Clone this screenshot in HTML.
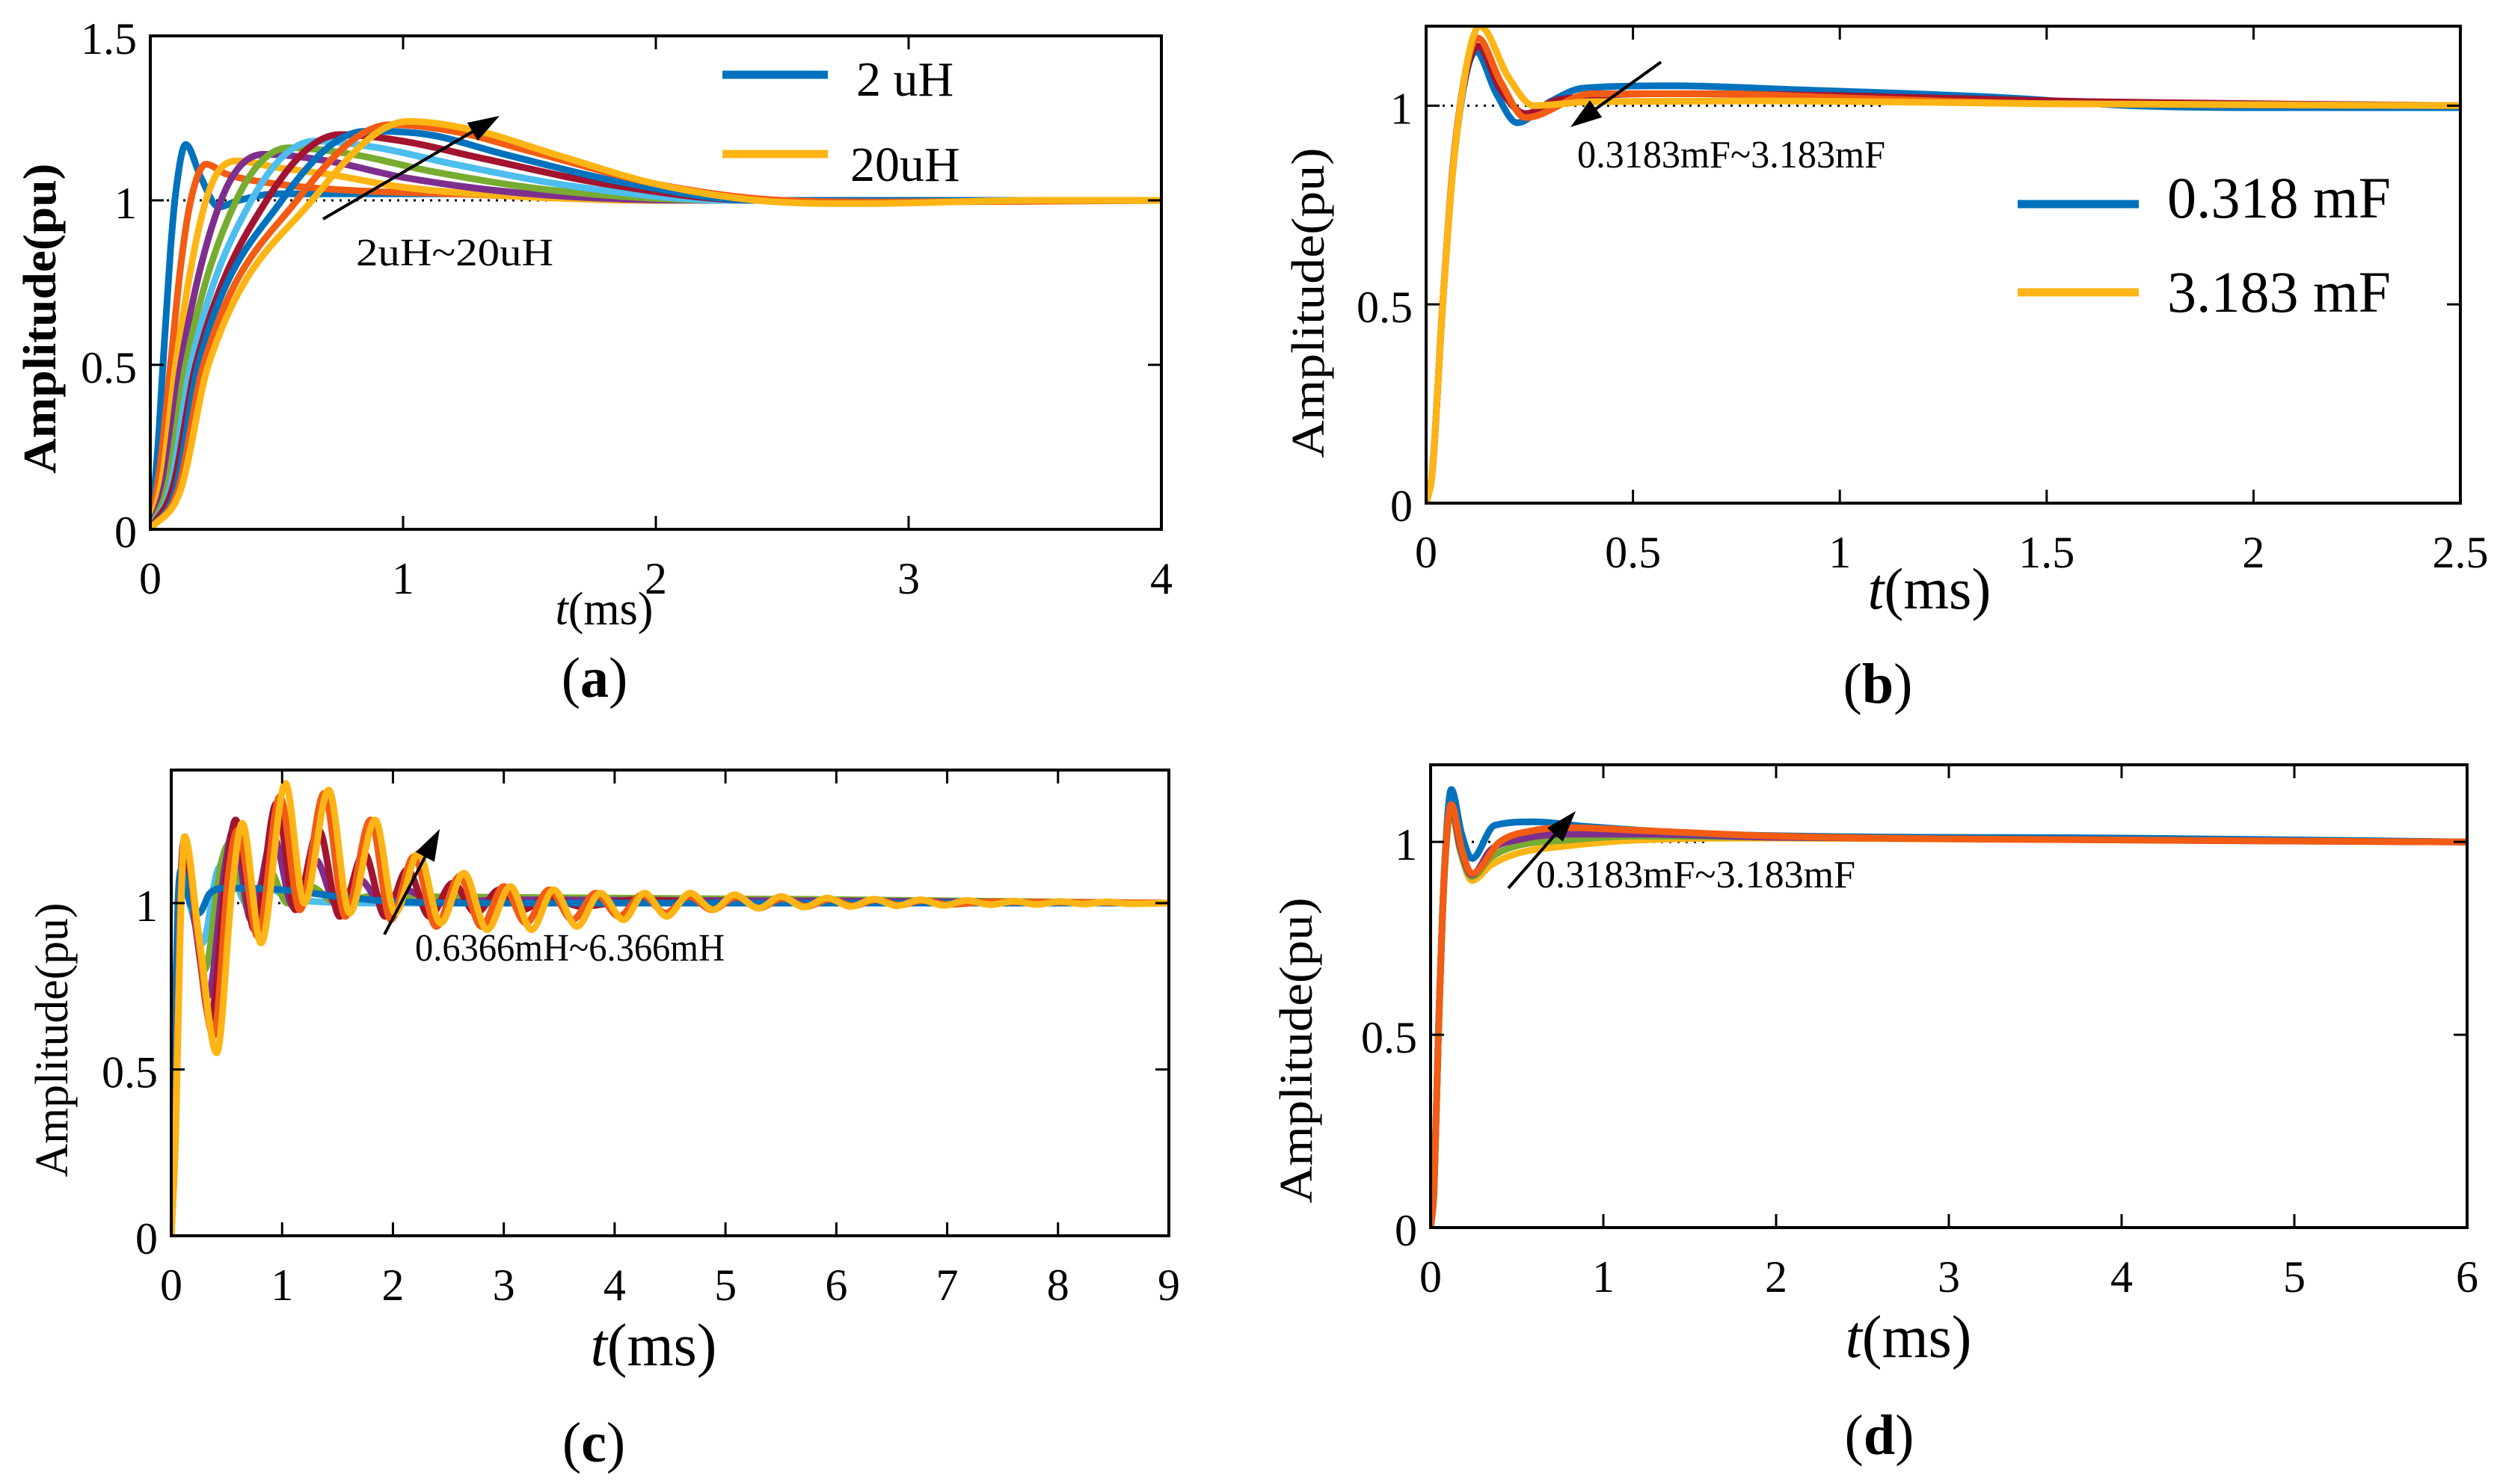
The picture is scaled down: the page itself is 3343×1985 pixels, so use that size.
<!DOCTYPE html>
<html><head><meta charset="utf-8">
<style>
html,body{margin:0;padding:0;background:#fff;}
svg{display:block;}
text{font-family:"Liberation Serif","Times New Roman",serif;fill:#000;}
</style></head>
<body>
<svg id="fig" width="3343" height="1985" viewBox="0 0 3343 1985" xmlns="http://www.w3.org/2000/svg"></svg>
<script>
// ---------- Panel (a) data: inductance sweep 2uH..20uH ----------
const aTicksX = [0,1,2,3,4];
const aTicksY = [0,0.5,1,1.5];
const aTickLabelsY = ["0","0.5","1","1.5"];
const aS1 = [[0,0],[0.03,0.25],[0.05,0.5],[0.08,0.85],[0.1,1.02],[0.14,1.17],[0.2,1.07],[0.27,0.98],[0.35,1.0],[0.5,1.02],[1.5,1.02],[2.2,1.0],[4,1]];
const aS2 = [[0,0],[0.04,0.2],[0.08,0.5],[0.12,0.8],[0.16,1.0],[0.22,1.11],[0.3,1.08],[0.5,1.05],[0.8,1.03],[1.2,1.02],[2,1.0],[4,1]];
const aS3 = [[0,0],[0.05,0.17],[0.1,0.5],[0.22,1.0],[0.34,1.12],[0.5,1.1],[0.7,1.08],[1.0,1.04],[1.5,1.01],[2.2,1.0],[4,1]];
const aS4 = [[0,0],[0.06,0.15],[0.12,0.5],[0.28,1],[0.45,1.14],[0.7,1.12],[1.0,1.07],[1.5,1.02],[2.2,1.0],[4,1]];
const aS5 = [[0,0],[0.07,0.14],[0.14,0.5],[0.34,1],[0.55,1.16],[0.8,1.14],[1.1,1.09],[1.6,1.03],[2.3,1.0],[4,1]];
const aS6 = [[0,0],[0.08,0.13],[0.16,0.5],[0.40,1],[0.65,1.18],[0.9,1.16],[1.2,1.11],[1.7,1.04],[2.3,1.0],[4,1]];
const aS7 = [[0,0],[0.09,0.13],[0.18,0.5],[0.46,1],[0.75,1.20],[1.0,1.18],[1.3,1.13],[1.8,1.05],[2.4,1.0],[4,1]];
const aS8 = [[0,0],[0.1,0.12],[0.19,0.5],[0.52,1],[0.85,1.21],[1.1,1.2],[1.4,1.14],[1.9,1.05],[2.4,1.0],[4,1]];
const aS9 = [[0,0],[0.11,0.12],[0.21,0.5],[0.58,1],[0.95,1.23],[1.2,1.21],[1.5,1.15],[2.0,1.05],[2.5,1.0],[2.9,0.995],[4,1]];
const aS10 = [[0,0],[0.12,0.12],[0.23,0.5],[0.64,1],[1.02,1.24],[1.3,1.21],[1.6,1.14],[2.0,1.05],[2.4,1.0],[2.8,0.99],[3.5,1.0],[4,1]];

// ---------- Panel (b) data: capacitance sweep ----------
const bTicksX = [0,0.5,1,1.5,2,2.5];
const bTickLabelsX = ["0","0.5","1","1.5","2","2.5"];
const bTicksY = [0,0.5,1];
const bTickLabelsY = ["0","0.5","1"];
const bBlue = [[0,0],[0.015,0.08],[0.04,0.5],[0.07,0.89],[0.12,1.136],[0.17,1.03],[0.22,0.957],[0.3,1.01],[0.38,1.044],[0.6,1.05],[0.9,1.04],[1.4,1.02],[1.7,1.0],[2.0,0.995],[2.5,0.995]];
const bRed = [[0,0],[0.015,0.08],[0.04,0.5],[0.07,0.9],[0.125,1.15],[0.18,1.04],[0.24,0.98],[0.32,1.015],[0.6,1.03],[1.0,1.025],[1.6,1.01],[2.5,1.0]];
const bOrange = [[0,0],[0.015,0.08],[0.04,0.5],[0.07,0.9],[0.125,1.17],[0.18,1.06],[0.24,0.97],[0.4,1.03],[0.7,1.03],[1.0,1.02],[1.5,1.005],[2.5,1.0]];
const bYellow = [[0,0],[0.015,0.08],[0.04,0.5],[0.07,0.89],[0.13,1.2],[0.2,1.07],[0.26,1.0],[0.4,1.01],[0.8,1.012],[1.5,1.005],[2.5,1.0]];

// ---------- Panel (c) data: inductance sweep 0.6366mH..6.366mH ----------
const cTicksX = [0,1,2,3,4,5,6,7,8,9];
const cTicksY = [0,0.5,1];
const cTickLabelsY = ["0","0.5","1"];
const cCyan = [[0,0],[0.04,0.55],[0.07,1.0],[0.09,1.08],[0.18,0.98],[0.28,0.88],[0.42,1.1],[0.5,1.12],[0.68,1.0],[0.85,1.05],[1.1,1.01],[2,1.0],[9,1]];
const cGreen = [[0,0],[0.04,0.5],[0.08,1.0],[0.1,1.12],[0.2,0.97],[0.3,0.8],[0.45,1.12],[0.53,1.18],[0.7,0.98],[0.88,1.1],[1.05,1.0],[1.25,1.05],[1.5,1.0],[1.8,1.02],[9,1.0]];
const cPurple = [[0,0],[0.04,0.45],[0.08,1.0],[0.11,1.17],[0.21,0.95],[0.33,0.72],[0.48,1.1],[0.56,1.22],[0.72,0.95],[0.92,1.2],[1.1,0.99],[1.3,1.13],[1.5,0.99],[1.7,1.07],[1.9,1.0],[2.1,1.04],[2.4,1.0],[3,1.01],[9,1.0]];
const cRed = [[0,0],[0.04,0.4],[0.08,1.0],[0.11,1.18],[0.22,0.95],[0.35,0.65],[0.5,1.1],[0.58,1.25],[0.75,0.92],[0.95,1.3],[1.12,0.98],[1.33,1.22],[1.52,0.96],[1.74,1.15],[1.93,0.96],[2.13,1.1],[2.33,0.96],[2.54,1.06],[2.75,0.97],[2.96,1.04],[3.17,0.98],[3.4,1.02],[3.7,0.99],[4.2,1.01],[5,1.0],[9,1.0]];
const cBlue = [[0,0],[0.03,0.6],[0.06,1.0],[0.09,1.1],[0.17,1.0],[0.25,0.97],[0.35,1.03],[0.5,1.045],[1.0,1.04],[1.5,1.02],[2.0,1.005],[3,1.0],[9,1.0]];
const cOrange = [[0,0],[0.04,0.35],[0.08,0.95],[0.12,1.2],[0.24,0.9],[0.38,0.6],[0.52,1.1],[0.6,1.22],[0.78,0.9],[0.98,1.32],[1.16,0.98],[1.38,1.33],[1.57,0.96],[1.8,1.25],[1.98,0.95],[2.19,1.14],[2.39,0.93],[2.6,1.08],[2.8,0.93],[3.0,1.05],[3.2,0.94],[3.41,1.04],[3.62,0.95],[3.83,1.03],[4.04,0.96],[4.25,1.025],[4.46,0.97],[4.67,1.02],[4.88,0.98],[5.1,1.018],[5.3,0.985],[5.52,1.015],[5.73,0.99],[5.94,1.012],[6.15,0.992],[6.36,1.01],[6.57,0.994],[6.78,1.008],[7.0,0.996],[7.4,1.004],[9,1.0]];
const cYellow = [[0,0],[0.04,0.3],[0.08,0.9],[0.12,1.2],[0.25,0.9],[0.41,0.55],[0.55,1.05],[0.64,1.24],[0.81,0.88],[1.03,1.36],[1.2,1.0],[1.42,1.34],[1.61,0.97],[1.84,1.25],[2.02,0.97],[2.23,1.15],[2.43,0.94],[2.64,1.09],[2.85,0.92],[3.06,1.05],[3.25,0.92],[3.45,1.04],[3.66,0.93],[3.87,1.03],[4.08,0.95],[4.27,1.03],[4.47,0.96],[4.68,1.03],[4.89,0.98],[5.08,1.025],[5.3,0.985],[5.5,1.02],[5.71,0.988],[5.92,1.015],[6.13,0.99],[6.34,1.012],[6.55,0.992],[6.76,1.01],[6.97,0.993],[7.18,1.008],[7.39,0.995],[7.6,1.006],[7.81,0.996],[8.02,1.005],[8.23,0.997],[8.44,1.004],[8.65,0.998],[9,1.0]];

// ---------- Panel (d) data: capacitance sweep ----------
const dTicksX = [0,1,2,3,4,5,6];
const dTicksY = [0,0.5,1];
const dTickLabelsY = ["0","0.5","1"];
const dYellow = [[0,0],[0.02,0.1],[0.045,0.5],[0.08,0.92],[0.12,1.08],[0.17,0.98],[0.24,0.9],[0.35,0.94],[0.5,0.97],[0.8,0.99],[1.2,1.005],[2,1.01],[6,1.0]];
const dGreen = [[0,0],[0.02,0.1],[0.045,0.5],[0.08,0.92],[0.12,1.09],[0.17,0.98],[0.24,0.91],[0.35,0.96],[0.5,0.99],[0.8,1.005],[1.2,1.015],[2,1.012],[6,1.0]];
const dPurple = [[0,0],[0.02,0.1],[0.045,0.5],[0.08,0.92],[0.12,1.095],[0.17,0.99],[0.24,0.915],[0.35,0.98],[0.5,1.005],[0.8,1.02],[1.2,1.02],[2,1.012],[6,1.0]];
const dBlue = [[0,0],[0.02,0.1],[0.045,0.5],[0.08,0.93],[0.12,1.136],[0.18,1.02],[0.24,0.957],[0.37,1.043],[0.6,1.052],[0.9,1.04],[1.8,1.018],[4,1.01],[6,1.0]];
const dOrange = [[0,0],[0.02,0.1],[0.045,0.5],[0.08,0.93],[0.12,1.097],[0.18,0.98],[0.24,0.918],[0.4,1.0],[0.6,1.03],[0.8,1.037],[1.2,1.03],[2,1.015],[4,1.005],[6,1.0]];

const C = {blue:"#0072BD",orange:"#F25C13",yellow:"#FDB515",purple:"#7E2F8E",green:"#77AC30",cyan:"#4DBEEE",red:"#A2142F"};
const NS = "http://www.w3.org/2000/svg";
const svg = document.getElementById("fig");

function mk(tag, attrs, parent){
  const e = document.createElementNS(NS, tag);
  for (const k in attrs) e.setAttribute(k, attrs[k]);
  (parent||svg).appendChild(e);
  return e;
}
function txt(s, attrs, parent){ const e = mk("text", attrs, parent); e.textContent = s; return e; }

function monoPath(pts, sx, sy){
  const n = pts.length, xs = pts.map(p=>p[0]), ys = pts.map(p=>p[1]);
  const h=[], d=[];
  for(let i=0;i<n-1;i++){ h.push(xs[i+1]-xs[i]); d.push((ys[i+1]-ys[i])/h[i]); }
  const m = new Array(n);
  m[0]=d[0]; m[n-1]=d[n-2];
  for(let i=1;i<n-1;i++){ m[i] = (d[i-1]*d[i] <= 0) ? 0 : (d[i-1]+d[i])/2; }
  for(let i=0;i<n-1;i++){
    if(d[i]===0){ m[i]=0; m[i+1]=0; continue; }
    const a=m[i]/d[i], b=m[i+1]/d[i], s=a*a+b*b;
    if(s>9){ const t=3/Math.sqrt(s); m[i]=t*a*d[i]; m[i+1]=t*b*d[i]; }
  }
  let p = "M"+sx(xs[0]).toFixed(1)+","+sy(ys[0]).toFixed(1);
  for(let i=0;i<n-1;i++){
    const c1x=xs[i]+h[i]/3, c1y=ys[i]+m[i]*h[i]/3, c2x=xs[i+1]-h[i]/3, c2y=ys[i+1]-m[i+1]*h[i]/3;
    p += " C"+sx(c1x).toFixed(1)+","+sy(c1y).toFixed(1)+" "+sx(c2x).toFixed(1)+","+sy(c2y).toFixed(1)+" "+sx(xs[i+1]).toFixed(1)+","+sy(ys[i+1]).toFixed(1);
  }
  return p;
}

function panel(cfg){
  const g = mk("g", {});
  
  
  const {L,R,T,B,xmax,ymax} = cfg;
  const sx = v => L + (R-L)*v/xmax;
  const sy = v => B - (B-T)*v/ymax;
  const clipId = "clip-"+cfg.id;
  const cp = mk("clipPath", {id:clipId}, g);
  mk("rect", {x:L, y:T, width:R-L, height:B-T}, cp);
  const ref = mk("line", {x1:sx(0), x2:sx(cfg.refEnd), y1:sy(1), y2:sy(1), stroke:"#000", "stroke-width":3, "stroke-dasharray":"3 8"}, g);
  
  
  const sg = mk("g", {"clip-path":"url(#"+clipId+")"}, g);
  cfg.series.forEach((s,i)=>{
    const path = mk("path", {d:monoPath(s.data, sx, sy), fill:"none", stroke:s.color, "stroke-width":cfg.sw||9, "stroke-linejoin":"round", "stroke-linecap":"round"}, sg);
    
    
  });
  const fr = mk("rect", {x:L, y:T, width:R-L, height:B-T, fill:"none", stroke:"#000", "stroke-width":4}, g);
  
  
  const tl = 18;
  cfg.xt.forEach((v,i)=>{
    const x = sx(v);
    mk("line",{x1:x,x2:x,y1:B,y2:B-tl,stroke:"#000","stroke-width":3},g);
    mk("line",{x1:x,x2:x,y1:T,y2:T+tl,stroke:"#000","stroke-width":3},g);
    const t = txt(cfg.xl ? cfg.xl[i] : String(v), {x:x, y:B+86, "font-size":60, "text-anchor":"middle"}, g);
    
    
  });
  cfg.yt.forEach((v,i)=>{
    const y = sy(v);
    mk("line",{x1:L,x2:L+tl,y1:y,y2:y,stroke:"#000","stroke-width":3},g);
    mk("line",{x1:R,x2:R-tl,y1:y,y2:y,stroke:"#000","stroke-width":3},g);
    const t = txt(cfg.yl[i], {x:L-18, y:y+24, "font-size":60, "text-anchor":"end"}, g);
    
    
  });
  const yt = txt("Amplitude(pu)", {x:0, y:0, "font-size":62, "font-weight":cfg.ybold?"bold":"normal", "text-anchor":"middle", textLength:cfg.ylen, lengthAdjust:"spacingAndGlyphs", transform:"translate("+cfg.ylx+","+cfg.yly+") rotate(-90)"}, g);
  
  
  const xt = mk("text", {x:cfg.xtx, y:cfg.xty, "font-size":cfg.xtf, "text-anchor":"middle"}, g);
  
  
  const ti = mk("tspan", {"font-style":"italic"}, xt); ti.textContent = "t";
  const tr = mk("tspan", {}, xt); tr.textContent = "(ms)";
  const cap = mk("text", {x:cfg.capx, y:cfg.capy, "font-size":76, "text-anchor":"middle"}, g);
  
  
  const c1 = mk("tspan", {}, cap); c1.textContent="(";
  const c2 = mk("tspan", {"font-weight":"bold"}, cap); c2.textContent=cfg.id;
  const c3 = mk("tspan", {}, cap); c3.textContent=")";
  const a = cfg.arrow;
  const dx=a[2]-a[0], dy=a[3]-a[1], len=Math.hypot(dx,dy), ux=dx/len, uy=dy/len, hl=42, hw=14;
  const bx=a[2]-ux*hl, by=a[3]-uy*hl;
  const ar = mk("g", {}, g);
  
  
  mk("line",{x1:a[0],y1:a[1],x2:bx+ux*5,y2:by+uy*5,stroke:"#000","stroke-width":4},ar);
  mk("polygon",{points:a[2]+","+a[3]+" "+(bx-uy*hw)+","+(by+ux*hw)+" "+(bx+uy*hw)+","+(by-ux*hw),fill:"#000"},ar);
  const an = txt(cfg.note[0], {x:cfg.note[1], y:cfg.note[2], "font-size":52, textLength:cfg.note[3], lengthAdjust:"spacingAndGlyphs"}, g);
  
  
  if(cfg.legend){
    const lg = mk("g", {}, g);
    
    
    cfg.legend.forEach(e=>{
      mk("line",{x1:e.x1,x2:e.x2,y1:e.y,y2:e.y,stroke:e.color,"stroke-width":11},lg);
      const t = txt(e.label, {x:e.tx, y:e.y+e.dy, "font-size":e.fs}, lg);
      
      
    });
  }
}

panel({id:"a", L:201, R:1553, T:48, B:708, xmax:4, ymax:1.5, refEnd:2.6, ybold:true,
  xt:aTicksX, yt:aTicksY, yl:aTickLabelsY,
  series:[{data:aS1,color:C.blue},{data:aS2,color:C.orange},{data:aS3,color:C.yellow},{data:aS4,color:C.purple},{data:aS5,color:C.green},{data:aS6,color:C.cyan},{data:aS7,color:C.red},{data:aS8,color:C.blue},{data:aS9,color:C.orange},{data:aS10,color:C.yellow}],
  ylx:74, yly:426, ylen:415, xtx:808, xty:835, xtf:62, capx:795, capy:932,
  arrow:[432,293,668,155], note:["2uH~20uH",476,355,264],
  legend:[{x1:966,x2:1107,y:100,color:C.blue,label:"2 uH",tx:1145,dy:28,fs:66},{x1:966,x2:1107,y:206,color:C.yellow,label:"20uH",tx:1137,dy:36,fs:66}]
});
panel({id:"b", L:1907, R:3290, T:35, B:673, xmax:2.5, ymax:1.2, refEnd:1.1,
  xt:bTicksX, xl:bTickLabelsX, yt:bTicksY, yl:bTickLabelsY,
  series:[{data:bBlue,color:C.blue},{data:bRed,color:C.red},{data:bOrange,color:C.orange},{data:bYellow,color:C.yellow}],
  ylx:1770, yly:405, ylen:415, xtx:2580, xty:814, xtf:78, capx:2511, capy:940,
  arrow:[2221,83,2100,170], note:["0.3183mF~3.183mF",2109,224,412],
  legend:[{x1:2698,x2:2860,y:273,color:C.blue,label:"0.318 mF",tx:2898,dy:18,fs:78},{x1:2698,x2:2860,y:391,color:C.yellow,label:"3.183 mF",tx:2898,dy:26,fs:78}]
});
panel({id:"c", L:229, R:1563, T:1030, B:1653, xmax:9, ymax:1.4, refEnd:2.2,
  xt:cTicksX, yt:cTicksY, yl:cTickLabelsY,
  series:[{data:cCyan,color:C.cyan},{data:cGreen,color:C.green},{data:cPurple,color:C.purple},{data:cRed,color:C.red},{data:cBlue,color:C.blue},{data:cOrange,color:C.orange},{data:cYellow,color:C.yellow}],
  ylx:90, yly:1391, ylen:367, xtx:874, xty:1826, xtf:80, capx:794, capy:1955,
  arrow:[514,1250,588,1109], note:["0.6366mH~6.366mH",555,1285,414]
});
panel({id:"d", L:1913, R:3299, T:1023, B:1642, xmax:6, ymax:1.2, refEnd:1.6,
  xt:dTicksX, yt:dTicksY, yl:dTickLabelsY,
  series:[{data:dYellow,color:C.yellow},{data:dGreen,color:C.green},{data:dPurple,color:C.purple},{data:dBlue,color:C.blue},{data:dOrange,color:C.orange}],
  ylx:1754, yly:1405, ylen:409, xtx:2552, xty:1815, xtf:80, capx:2513, capy:1945,
  arrow:[2017,1188,2107,1085], note:["0.3183mF~3.183mF",2054,1187,427]
});
</script>
</body></html>
